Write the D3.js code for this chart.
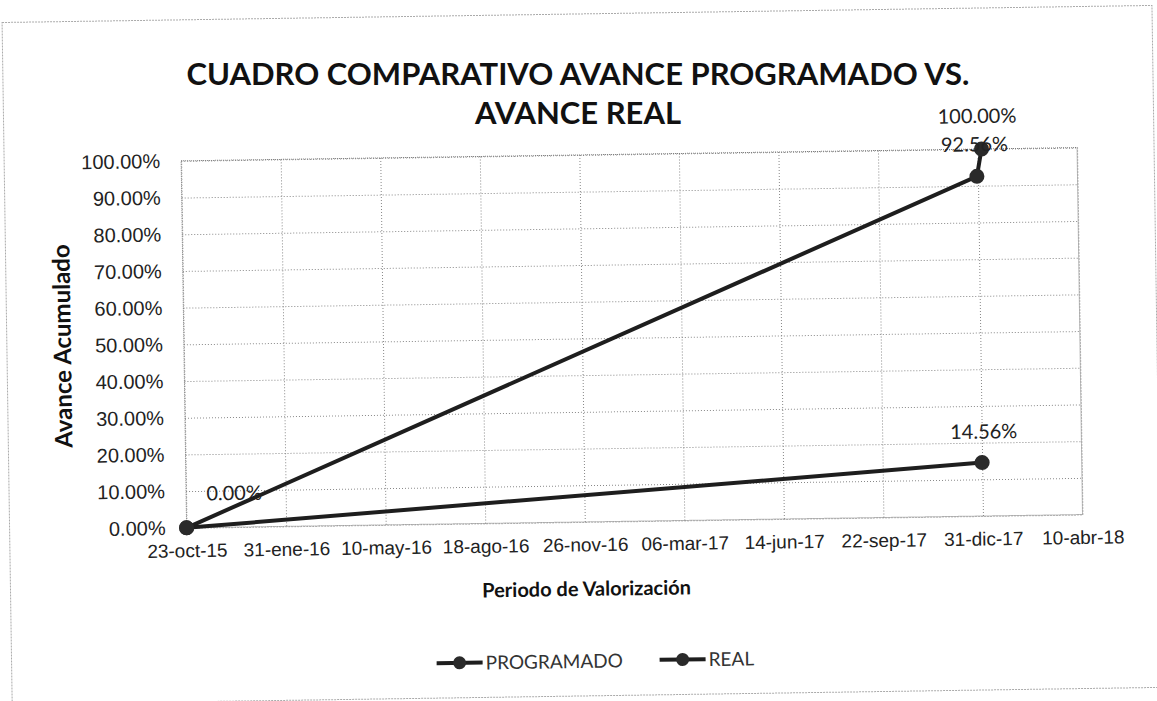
<!DOCTYPE html>
<html lang="es">
<head>
    <meta charset="UTF-8">
    <title>Cuadro comparativo avance programado vs. avance real</title>
    <script src="https://d3js.org/d3.v7.min.js"></script>
    <style>
        body { margin: 0; background: #fff; }
        svg { display: block; font-family: Lato, "Open Sans", sans-serif; }
        .y-label { font-size: 20px; fill: #222; }
        .x-label { font-size: 19px; fill: #222; }
        .axis-title { font-weight: bold; fill: #111; }
        .title { font-size: 31px; font-weight: bold; fill: #111; }
        .data-label { font-size: 20px; fill: #222; }
        .legend text { font-size: 19px; fill: #333; }
    </style>
</head>
<body>
<svg id="chart"></svg>
<script>
    const width = 1157, height = 701;

    // tick labels on the date axis (every 100 days)
    const tickLabels = ["23-oct-15", "31-ene-16", "10-may-16", "18-ago-16", "26-nov-16",
                        "06-mar-17", "14-jun-17", "22-sep-17", "31-dic-17", "10-abr-18"];
    const yTicks = [0, 10, 20, 30, 40, 50, 60, 70, 80, 90, 100];

    // series
    const programadoFechas = ["2015-10-23", "2017-12-30", "2018-01-04"];
    const programadoValores = [0, 92.56, 100];
    const realFechas = ["2015-10-23", "2017-12-31"];
    const realValores = [0, 14.56];

    const titleLines = ["CUADRO COMPARATIVO AVANCE PROGRAMADO VS.", "AVANCE REAL"];

    const parse = d3.timeParse("%Y-%m-%d");
    const startDate = parse("2015-10-23");
    const tickDates = tickLabels.map((_, i) => d3.timeDay.offset(startDate, i * 100));

    const margin = { top: 155, right: 77, bottom: 179, left: 184 };
    const plotW = width - margin.left - margin.right;
    const plotH = height - margin.top - margin.bottom;

    const svg = d3.select("#chart").attr("width", width).attr("height", height);

    // the scanned original is slightly tilted
    const root = svg.append("g").attr("transform", "rotate(-0.85, 578, 350)");

    root.append("rect")
        .attr("x", 7).attr("y", 14)
        .attr("width", 1150).attr("height", 682)
        .attr("fill", "none")
        .attr("stroke", "#aaa")
        .attr("stroke-width", 1)
        .attr("stroke-dasharray", "2,1");

    // title on two lines (kept level)
    svg.append("g").selectAll("text")
        .data(titleLines)
        .join("text")
        .attr("class", "title")
        .attr("text-anchor", "middle")
        .attr("x", 578)
        .attr("y", (d, i) => 85 + i * 39)
        .text(d => d);

    const g = root.append("g").attr("transform", `translate(${margin.left},${margin.top})`);

    const x = d3.scaleTime()
        .domain([tickDates[0], tickDates[tickDates.length - 1]])
        .range([0, plotW]);
    const y = d3.scaleLinear().domain([0, 100]).range([plotH, 0]);

    // gridlines
    g.append("g")
        .call(d3.axisLeft(y).tickValues(yTicks).tickSize(-plotW).tickFormat(""))
        .call(a => a.select(".domain").remove())
        .selectAll("line")
        .attr("stroke", "#888")
        .attr("stroke-dasharray", "1,2");

    g.append("g")
        .attr("transform", `translate(0,${plotH})`)
        .call(d3.axisBottom(x).tickValues(tickDates).tickSize(-plotH).tickFormat(""))
        .call(a => a.select(".domain").remove())
        .selectAll("line")
        .attr("stroke", "#888")
        .attr("stroke-dasharray", "1,2");

    g.append("rect")
        .attr("width", plotW).attr("height", plotH)
        .attr("fill", "none")
        .attr("stroke", "#777")
        .attr("stroke-dasharray", "1,1");

    // tick labels
    const yAxis = g.append("g")
        .call(d3.axisLeft(y).tickValues(yTicks).tickSize(0).tickPadding(21)
            .tickFormat(d => d.toFixed(2) + "%"));
    yAxis.select(".domain").remove();
    yAxis.selectAll("text").attr("class", "y-label").attr("font-family", null).attr("font-size", null);

    const xAxis = g.append("g")
        .attr("transform", `translate(0,${plotH})`)
        .call(d3.axisBottom(x).tickValues(tickDates).tickSize(0).tickPadding(16)
            .tickFormat((d, i) => tickLabels[i]));
    xAxis.select(".domain").remove();
    xAxis.selectAll("text").attr("class", "x-label").attr("font-family", null).attr("font-size", null);

    // axis titles
    root.append("text").attr("class", "axis-title")
        .attr("font-size", 24)
        .attr("transform", `translate(71,${margin.top + plotH / 2}) rotate(-90)`)
        .attr("text-anchor", "middle")
        .text("Avance Acumulado");
    root.append("text").attr("class", "axis-title")
        .attr("font-size", 20)
        .attr("x", 583).attr("y", 596).attr("text-anchor", "middle")
        .text("Periodo de Valorización");

    const line = d3.line().x(d => x(d.fecha)).y(d => y(d.valor));
    const programado = programadoFechas.map((f, i) => ({ fecha: parse(f), valor: programadoValores[i] }));
    const real = realFechas.map((f, i) => ({ fecha: parse(f), valor: realValores[i] }));

    [programado, real].forEach(serie => {
        g.append("path")
            .datum(serie)
            .attr("d", line)
            .attr("fill", "none")
            .attr("stroke", "#1e1e1e")
            .attr("stroke-width", 4);
        g.selectAll(null)
            .data(serie)
            .join("circle")
            .attr("cx", d => x(d.fecha))
            .attr("cy", d => y(d.valor))
            .attr("r", 7.5)
            .attr("fill", "#2a2a2a");
    });

    // data labels
    const labels = [
        { d: programado[0], dx: 48, dy: -27 },
        { d: programado[1], dx: -2, dy: -25 },
        { d: programado[2], dx: -4, dy: -26 },
        { d: real[1], dx: 2, dy: -24 }
    ];
    g.selectAll(".data-label")
        .data(labels)
        .join("text")
        .attr("class", "data-label")
        .attr("text-anchor", "middle")
        .attr("x", l => x(l.d.fecha) + l.dx)
        .attr("y", l => y(l.d.valor) + l.dy)
        .text(l => l.d.valor.toFixed(2) + "%");

    // legend
    const legendItems = ["PROGRAMADO", "REAL"];
    const legend = root.append("g").attr("class", "legend");
    const legendX = [432, 655];
    legendItems.forEach((name, i) => {
        const lg = legend.append("g").attr("transform", `translate(${legendX[i]},661)`);
        lg.append("line").attr("x1", 0).attr("x2", 46).attr("stroke", "#1e1e1e").attr("stroke-width", 4);
        lg.append("circle").attr("cx", 23).attr("r", 6.5).attr("fill", "#2a2a2a");
        lg.append("text").attr("x", 49).attr("y", 7).text(name);
    });
</script>
</body>
</html>
